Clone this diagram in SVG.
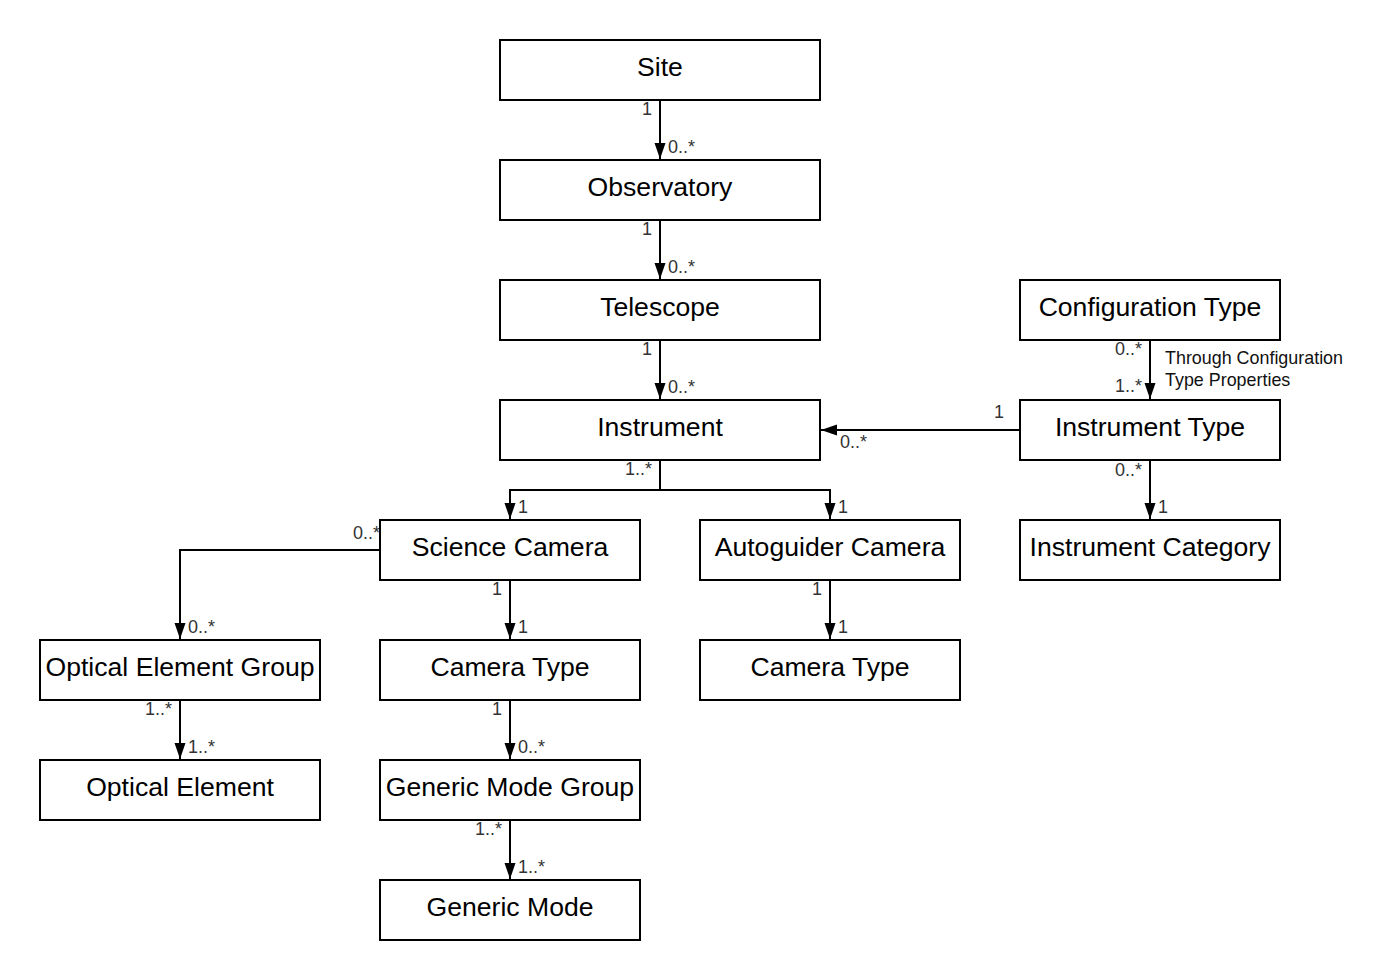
<svg xmlns="http://www.w3.org/2000/svg" width="1400" height="980" viewBox="0 0 1400 980">
<style>
.box{fill:#fff;stroke:#000;stroke-width:2}
.nt{font-family:"Liberation Sans",Arial,sans-serif;font-size:26.6px;fill:#000;text-anchor:middle;dominant-baseline:central}
.lb{font-family:"Liberation Sans",Arial,sans-serif;font-size:18px;fill:#333}
.r{text-anchor:end}
.ln{fill:none;stroke:#000;stroke-width:2}
.note{font-family:"Liberation Sans",Arial,sans-serif;font-size:17.9px;fill:#111}
</style>
<defs>
<marker id="ah" markerWidth="16" markerHeight="12" viewBox="0 0 16 12" refX="16" refY="6" orient="auto" markerUnits="userSpaceOnUse">
<path d="M0,0.5 L16,6 L0,11.5 Z" fill="#000"/>
</marker>
</defs>
<rect width="1400" height="980" fill="#fff"/>
<g id="connectors">
<path class="ln" d="M660,100 V159" marker-end="url(#ah)"/>
<path class="ln" d="M660,220 V279" marker-end="url(#ah)"/>
<path class="ln" d="M660,340 V399" marker-end="url(#ah)"/>
<path class="ln" d="M660,460 V490 H510 V519" marker-end="url(#ah)"/>
<path class="ln" d="M660,490 H830 V519" marker-end="url(#ah)"/>
<path class="ln" d="M1150,340 V399" marker-end="url(#ah)"/>
<path class="ln" d="M1020,430 H821" marker-end="url(#ah)"/>
<path class="ln" d="M1150,460 V519" marker-end="url(#ah)"/>
<path class="ln" d="M380,550 H180 V639" marker-end="url(#ah)"/>
<path class="ln" d="M510,580 V639" marker-end="url(#ah)"/>
<path class="ln" d="M830,580 V639" marker-end="url(#ah)"/>
<path class="ln" d="M180,700 V759" marker-end="url(#ah)"/>
<path class="ln" d="M510,700 V759" marker-end="url(#ah)"/>
<path class="ln" d="M510,820 V879" marker-end="url(#ah)"/>
<text class="lb r" x="652" y="115">1</text>
<text class="lb" x="668" y="153">0..*</text>
<text class="lb r" x="652" y="235">1</text>
<text class="lb" x="668" y="273">0..*</text>
<text class="lb r" x="652" y="355">1</text>
<text class="lb" x="668" y="393">0..*</text>
<text class="lb r" x="652" y="475">1..*</text>
<text class="lb" x="518" y="513">1</text>
<text class="lb" x="838" y="513">1</text>
<text class="lb r" x="380" y="539">0..*</text>
<text class="lb r" x="1142" y="355">0..*</text>
<text class="lb r" x="1142" y="392">1..*</text>
<text class="note" x="1165" y="364">Through Configuration</text>
<text class="note" x="1165" y="386">Type Properties</text>
<text class="lb r" x="1004" y="418">1</text>
<text class="lb" x="840" y="448">0..*</text>
<text class="lb r" x="1142" y="476">0..*</text>
<text class="lb" x="1158" y="513">1</text>
<text class="lb" x="188" y="633">0..*</text>
<text class="lb r" x="502" y="595">1</text>
<text class="lb" x="518" y="633">1</text>
<text class="lb r" x="822" y="595">1</text>
<text class="lb" x="838" y="633">1</text>
<text class="lb r" x="172" y="715">1..*</text>
<text class="lb" x="188" y="753">1..*</text>
<text class="lb r" x="502" y="715">1</text>
<text class="lb" x="518" y="753">0..*</text>
<text class="lb r" x="502" y="835">1..*</text>
<text class="lb" x="518" y="873">1..*</text>
</g>
<g id="site"><rect class="box" x="500" y="40" width="320" height="60"/><text class="nt" x="660" y="67">Site</text></g>
<g id="observatory"><rect class="box" x="500" y="160" width="320" height="60"/><text class="nt" x="660" y="187">Observatory</text></g>
<g id="telescope"><rect class="box" x="500" y="280" width="320" height="60"/><text class="nt" x="660" y="307">Telescope</text></g>
<g id="instrument"><rect class="box" x="500" y="400" width="320" height="60"/><text class="nt" x="660" y="427">Instrument</text></g>
<g id="configuration-type"><rect class="box" x="1020" y="280" width="260" height="60"/><text class="nt" x="1150" y="307">Configuration Type</text></g>
<g id="instrument-type"><rect class="box" x="1020" y="400" width="260" height="60"/><text class="nt" x="1150" y="427">Instrument Type</text></g>
<g id="instrument-category"><rect class="box" x="1020" y="520" width="260" height="60"/><text class="nt" x="1150" y="547">Instrument Category</text></g>
<g id="science-camera"><rect class="box" x="380" y="520" width="260" height="60"/><text class="nt" x="510" y="547">Science Camera</text></g>
<g id="autoguider-camera"><rect class="box" x="700" y="520" width="260" height="60"/><text class="nt" x="830" y="547">Autoguider Camera</text></g>
<g id="optical-element-group"><rect class="box" x="40" y="640" width="280" height="60"/><text class="nt" x="180" y="667">Optical Element Group</text></g>
<g id="camera-type-1"><rect class="box" x="380" y="640" width="260" height="60"/><text class="nt" x="510" y="667">Camera Type</text></g>
<g id="camera-type-2"><rect class="box" x="700" y="640" width="260" height="60"/><text class="nt" x="830" y="667">Camera Type</text></g>
<g id="optical-element"><rect class="box" x="40" y="760" width="280" height="60"/><text class="nt" x="180" y="787">Optical Element</text></g>
<g id="generic-mode-group"><rect class="box" x="380" y="760" width="260" height="60"/><text class="nt" x="510" y="787">Generic Mode Group</text></g>
<g id="generic-mode"><rect class="box" x="380" y="880" width="260" height="60"/><text class="nt" x="510" y="907">Generic Mode</text></g>
</svg>
